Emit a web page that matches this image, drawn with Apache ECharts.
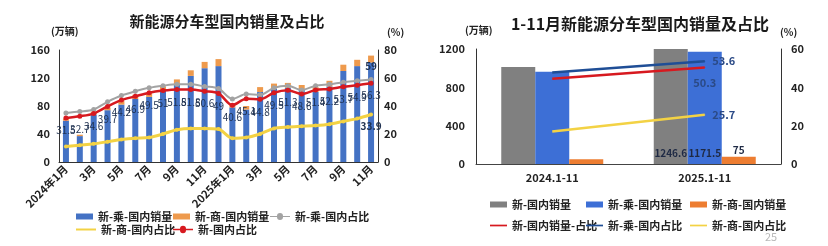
<!DOCTYPE html>
<html><head><meta charset="utf-8">
<script src="https://cdn.jsdelivr.net/npm/echarts@6/dist/echarts.min.js"></script>
<style>html,body{margin:0;padding:0;background:#fff}#c{width:828px;height:246px}</style>
</head><body><div id="c"></div>
<script>
// ---- Left chart data (万辆 / %) ----
const monthCats = ['2024年1月','2月','3月','4月','5月','6月','7月','8月','9月','10月','11月','12月','2025年1月','2月','3月','4月','5月','6月','7月','8月','9月','10月','11月'];
const passDomestic = [59,37,68,74,82,90,93,102,111,123,134,137,78,75,100,105,106,103,100,108,130,137,142];
const commDomestic = [3,2,4,4,5,6,5,6,7,8,9,10,4,5,7,7,7,7,7,8,9,9,10];
const passShare = [35,36,37.5,43,47.5,50.5,53,54.5,55.5,55.5,54,52.5,45,48.5,48,53,54.5,51.5,54.5,55.5,57,58,59];
const commShare = [11,12,13,14.5,16,17,17.5,20,23,24,24,23.5,17,17.5,20,24,25,25.5,26,27,29,31,33.9];
const totalShare = [31.5,32.7,34.6,39.7,44.2,46.9,49.5,51,51.8,51.8,50.6,49,40.6,45.1,44.8,49.5,51.3,48.6,51.4,52.2,53.7,54.9,56.3];
const leftTicks = [0,40,80,120,160];
const leftPctTicks = [0,20,40,60,80];

// ---- Right chart data ----
const periodCats = ['2024.1-11','2025.1-11'];
const nevDomestic = [1011,1246.6];
const nevPassDomestic = [962,1171.5];
const nevCommDomestic = [49,75];
const nevShare = [44.5,50.3];
const nevPassShare = [47.7,53.6];
const nevCommShare = [17.0,25.7];
const rightTicks = [0,400,800,1200];
const rightPctTicks = [0,20,40,60];

const FONT = '"Noto Sans CJK SC","Noto Sans",sans-serif';
const ZW = '\u200b';
const C = {blue:'#4472c4', orange:'#ee9a4d', gray:'#a3a3a3', red:'#d7191f', yellow:'#f3d244',
           gbar:'#808080', rblue:'#3d6fd6', rorange:'#ed7d31', dblue:'#1f4e96'};
const axisTxt = {color:'#222', fontWeight:'bold', fontSize:11, fontFamily:FONT, formatter:(v)=>String(v)};
const lastOnly = (arr, label) => arr.map((v,i)=> i===arr.length-1 ? {value:v, label:Object.assign({show:true}, label)} : v);

const chart = echarts.init(document.getElementById('c'), null, {renderer:'canvas'});

function legendItem(left, top, name, icon, w, h){
  return {left, top, itemWidth:w, itemHeight:h, icon, data:[name], selectedMode:false,
    textStyle:{fontFamily:FONT, fontSize:11, fontWeight:'bold', color:'#222'}, itemGap:0, padding:0};
}

const option = {
  animation:false,
  backgroundColor:'#fff',
  textStyle:{fontFamily:FONT},
  title:[
    {text:'新能源分车型国内销量及占比', left:222, top:9, textAlign:'center',
     textStyle:{fontFamily:FONT, fontSize:15, fontWeight:'bold', color:'#1a1a1a'}},
    {text:'1-11月新能源分车型国内销量及占比', left:635, top:11, textAlign:'center',
     textStyle:{fontFamily:FONT, fontSize:16, fontWeight:'bold', color:'#1a1a1a'}}
  ],
  graphic:[
    {type:'text', left:51, top:26, style:{text:'(万辆)', font:'bold 10px '+FONT, fill:'#222'}},
    {type:'text', left:387, top:27, style:{text:'(%)', font:'bold 10px '+FONT, fill:'#222'}},
    {type:'text', left:465, top:25, style:{text:'(万辆)', font:'bold 10px '+FONT, fill:'#222'}},
    {type:'text', left:780, top:27, style:{text:'(%)', font:'bold 10px '+FONT, fill:'#222'}},
    {type:'text', left:765, top:231, style:{text:'25', font:'11px '+FONT, fill:'#b8b8b8'}}
  ],
  legend:[
    legendItem(76, 211, '新-乘-国内销量', 'rect', 17, 6),
    legendItem(173, 211, '新-商-国内销量', 'rect', 17, 6),
    legendItem(270, 211, '新-乘-国内占比', 'path://M0,4.5L7,4.5A3,3 0 1 1 13,4.5L20,4.5L20,5.5L13,5.5A3,3 0 1 1 7,5.5L0,5.5Z', 20, 8),
    legendItem(76, 224, '新-商-国内占比', 'path://M0,4L20,4L20,6L0,6Z', 20, 8),
    legendItem(173, 224, '新-国内占比', 'path://M0,4.3L7,4.3A3,3 0 1 1 13,4.3L20,4.3L20,5.7L13,5.7A3,3 0 1 1 7,5.7L0,5.7Z', 20, 8),
    legendItem(490, 199, '新-国内销量', 'rect', 17, 6),
    legendItem(586, 199, '新-乘-国内销量'+ZW, 'rect', 17, 6),
    legendItem(690, 199, '新-商-国内销量'+ZW, 'rect', 17, 6),
    legendItem(490, 220, '新-国内销量-占比', 'path://M0,4L20,4L20,6L0,6Z', 17, 8),
    legendItem(586, 220, '新-乘-国内占比'+ZW, 'path://M0,4L20,4L20,6L0,6Z', 17, 8),
    legendItem(690, 220, '新-商-国内占比'+ZW, 'path://M0,4L20,4L20,6L0,6Z', 17, 8)
  ],
  grid:[
    {left:59, right:450, top:50, bottom:84},
    {left:476, right:47, top:49, bottom:82}
  ],
  xAxis:[
    {type:'category', gridIndex:0, data:monthCats,
     axisLine:{lineStyle:{color:'#333', width:1}}, axisTick:{show:false},
     axisLabel:Object.assign({}, axisTxt, {interval:1, rotate:45, margin:5, formatter:null})},
    {type:'category', gridIndex:1, data:periodCats,
     axisLine:{lineStyle:{color:'#444', width:1}}, axisTick:{show:false},
     axisLabel:Object.assign({}, axisTxt, {margin:8, formatter:null})}
  ],
  yAxis:[
    {type:'value', gridIndex:0, min:leftTicks[0], max:leftTicks[leftTicks.length-1], interval:40,
     axisLine:{show:true, lineStyle:{color:'#333'}}, axisTick:{show:false}, splitLine:{show:false},
     axisLabel:Object.assign({margin:9}, axisTxt)},
    {type:'value', gridIndex:0, position:'right', min:leftPctTicks[0], max:leftPctTicks[leftPctTicks.length-1], interval:20,
     axisLine:{show:true, lineStyle:{color:'#333'}}, axisTick:{show:false}, splitLine:{show:false},
     axisLabel:Object.assign({margin:6}, axisTxt)},
    {type:'value', gridIndex:1, min:rightTicks[0], max:rightTicks[rightTicks.length-1], interval:400,
     axisLine:{show:true, lineStyle:{color:'#333'}}, axisTick:{show:false}, splitLine:{show:false},
     axisLabel:Object.assign({margin:11}, axisTxt)},
    {type:'value', gridIndex:1, position:'right', min:rightPctTicks[0], max:rightPctTicks[rightPctTicks.length-1], interval:20,
     axisLine:{show:true, lineStyle:{color:'#333'}}, axisTick:{show:false}, splitLine:{show:false},
     axisLabel:Object.assign({margin:10}, axisTxt)}
  ],
  series:[
    {name:'新-乘-国内销量', type:'bar', xAxisIndex:0, yAxisIndex:0, stack:'s', barWidth:6,
     itemStyle:{color:C.blue}, data:passDomestic},
    {name:'新-商-国内销量', type:'bar', xAxisIndex:0, yAxisIndex:0, stack:'s', barWidth:6,
     itemStyle:{color:C.orange}, data:commDomestic},
    {name:'新-乘-国内占比', type:'line', xAxisIndex:0, yAxisIndex:1, smooth:0.3,
     symbol:'circle', symbolSize:5, lineStyle:{color:C.gray, width:2}, itemStyle:{color:C.gray},
     data:lastOnly(passShare, {position:'top', distance:6, color:'#1f3150', fontSize:10, fontWeight:'bold'})},
    {name:'新-商-国内占比', type:'line', xAxisIndex:0, yAxisIndex:1, smooth:0.3,
     symbol:'circle', symbolSize:4, lineStyle:{color:C.yellow, width:3}, itemStyle:{color:C.yellow},
     data:lastOnly(commShare, {position:'bottom', distance:5, color:'#1f3150', fontSize:10, fontWeight:'bold'})},
    {name:'新-国内占比', type:'line', xAxisIndex:0, yAxisIndex:1, smooth:0.3,
     symbol:'circle', symbolSize:5, lineStyle:{color:C.red, width:2.5}, itemStyle:{color:C.red},
     label:{show:true, position:'bottom', distance:5, color:'#1f3150', fontSize:10, fontFamily:FONT},
     data:totalShare},

    {name:'新-国内销量', type:'bar', xAxisIndex:1, yAxisIndex:2, barWidth:34, barGap:'0%',
     itemStyle:{color:C.gbar}, data:nevDomestic.map((v,i)=> i===1 ? {value:v, label:{show:true, position:'insideBottom', distance:6, color:'#1f2a44', fontSize:10, fontWeight:'bold'}} : v)},
    {name:'新-乘-国内销量'+ZW, type:'bar', xAxisIndex:1, yAxisIndex:2, barWidth:34, barGap:'0%',
     itemStyle:{color:C.rblue}, data:nevPassDomestic.map((v,i)=> i===1 ? {value:v, label:{show:true, position:'insideBottom', distance:6, color:'#1f2a44', fontSize:10, fontWeight:'bold'}} : v)},
    {name:'新-商-国内销量'+ZW, type:'bar', xAxisIndex:1, yAxisIndex:2, barWidth:34, barGap:'0%',
     itemStyle:{color:C.rorange}, data:nevCommDomestic.map((v,i)=> i===1 ? {value:v, label:{show:true, position:'top', distance:2, color:'#1f2a44', fontSize:10, fontWeight:'bold'}} : v)},
    {name:'新-国内销量-占比', type:'line', xAxisIndex:1, yAxisIndex:3, symbol:'none', z:5,
     lineStyle:{color:C.red, width:2.5}, itemStyle:{color:C.red},
     data:nevShare.map((v,i)=> i===1 ? {value:v, symbol:'circle', symbolSize:1, label:{show:true, position:'bottom', distance:9, color:'#2b4a86', fontSize:11, fontWeight:'bold'}} : v)},
    {name:'新-乘-国内占比'+ZW, type:'line', xAxisIndex:1, yAxisIndex:3, symbol:'none', z:5,
     lineStyle:{color:C.dblue, width:2.5}, itemStyle:{color:C.dblue},
     data:nevPassShare.map((v,i)=> i===1 ? {value:v, symbol:'circle', symbolSize:1, label:{show:true, position:'right', distance:7, color:'#2b4a86', fontSize:11, fontWeight:'bold'}} : v)},
    {name:'新-商-国内占比'+ZW, type:'line', xAxisIndex:1, yAxisIndex:3, symbol:'none', z:5,
     lineStyle:{color:C.yellow, width:2.5}, itemStyle:{color:C.yellow},
     data:nevCommShare.map((v,i)=> i===1 ? {value:v, symbol:'circle', symbolSize:1, label:{show:true, position:'right', distance:7, color:'#2b4a86', fontSize:11, fontWeight:'bold'}} : v)}
  ]
};
chart.setOption(option);
</script></body></html>
